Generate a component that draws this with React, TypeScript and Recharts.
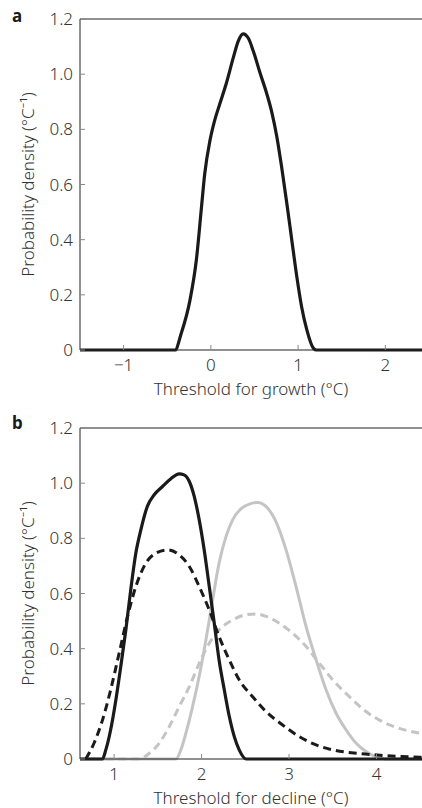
import React from 'react';
import { LineChart, Line, XAxis, YAxis, ReferenceLine, Label } from 'recharts';

// panel a: threshold for growth
const growthX = [-1.5, -0.41, -0.34, -0.24, -0.165, -0.107, -0.07, -0.01, 0.046, 0.1, 0.18, 0.257, 0.314, 0.37, 0.43, 0.487, 0.563, 0.64, 0.7, 0.755, 0.81, 0.87, 0.927, 0.985, 1.04, 1.1, 1.176, 1.21, 2.42];
const growthY = [0, 0, 0.06, 0.18, 0.33, 0.52, 0.64, 0.76, 0.835, 0.89, 0.97, 1.06, 1.12, 1.146, 1.13, 1.083, 1.005, 0.93, 0.86, 0.775, 0.666, 0.533, 0.4, 0.266, 0.157, 0.073, 0.006, 0, 0];

// panel b: threshold for decline
const blackSolidX = [0.61, 0.866, 0.905, 0.96, 1.02, 1.076, 1.134, 1.19, 1.248, 1.305, 1.38, 1.458, 1.553, 1.649, 1.744, 1.8, 1.86, 1.916, 1.973, 2.03, 2.088, 2.145, 2.2, 2.26, 2.317, 2.374, 2.43, 2.51, 4.52];
const blackSolidY = [0, 0, 0.033, 0.105, 0.214, 0.335, 0.468, 0.613, 0.746, 0.83, 0.916, 0.958, 0.988, 1.016, 1.034, 1.03, 1.006, 0.952, 0.867, 0.758, 0.625, 0.492, 0.359, 0.25, 0.154, 0.081, 0.033, 0, 0];

const blackDashX = [0.676, 0.77, 0.866, 0.96, 1.057, 1.153, 1.248, 1.363, 1.477, 1.61, 1.744, 1.86, 1.973, 2.088, 2.2, 2.317, 2.43, 2.584, 2.737, 2.927, 3.118, 3.309, 3.5, 3.805, 4.07, 4.515];
const blackDashY = [0, 0.057, 0.14, 0.25, 0.383, 0.516, 0.625, 0.71, 0.746, 0.758, 0.74, 0.698, 0.625, 0.54, 0.444, 0.359, 0.287, 0.226, 0.172, 0.123, 0.081, 0.051, 0.033, 0.02, 0.013, 0.006];

const graySolidX = [0.61, 1.706, 1.763, 1.82, 1.897, 1.973, 2.05, 2.126, 2.2, 2.28, 2.355, 2.47, 2.56, 2.64, 2.72, 2.85, 2.966, 3.08, 3.195, 3.31, 3.424, 3.538, 3.653, 3.767, 3.88, 3.996, 4.11, 4.52];
const graySolidY = [0, 0, 0.033, 0.093, 0.19, 0.3, 0.432, 0.577, 0.71, 0.807, 0.867, 0.912, 0.926, 0.93, 0.92, 0.861, 0.758, 0.625, 0.48, 0.359, 0.25, 0.166, 0.105, 0.057, 0.027, 0.008, 0, 0];

const grayDashX = [0.9, 1.286, 1.4, 1.515, 1.63, 1.744, 1.86, 1.973, 2.088, 2.2, 2.355, 2.507, 2.62, 2.737, 2.89, 3.04, 3.195, 3.347, 3.5, 3.69, 3.88, 4.07, 4.26, 4.515];
const grayDashY = [0, 0, 0.02, 0.057, 0.117, 0.19, 0.262, 0.347, 0.42, 0.468, 0.504, 0.523, 0.526, 0.517, 0.492, 0.456, 0.408, 0.347, 0.287, 0.226, 0.172, 0.135, 0.111, 0.093];

const yTicks = [0, 0.2, 0.4, 0.6, 0.8, 1.0, 1.2];
const growthTicks = [-1, 0, 1, 2];
const declineTicks = [1, 2, 3, 4];

const toPoints = (xs: number[], ys: number[]) => xs.map((x, i) => ({ x, y: ys[i] }));

const font = '"Noto Sans", sans-serif';
const textColor = '#333';
const black = '#1a1a1a';
const gray = '#c4c4c4';
const fs = 17;

const fmtY = (v: number) => (v === 0 ? '0' : v.toFixed(1));
const fmtX = (v: number) => String(v).replace('-', '\u2212');

interface PanelProps {
  domain: [number, number];
  ticks: number[];
  xLabel: string;
  children: React.ReactNode;
}

const Panel: React.FC<PanelProps> = ({ domain, ticks, xLabel, children }) => (
  <LineChart width={422} height={404} margin={{ top: 19, right: 0, bottom: 0, left: 0 }}>
    <XAxis
      type="number"
      dataKey="x"
      domain={domain}
      ticks={ticks}
      tickFormatter={fmtX}
      height={54}
      stroke="#222"
      tickSize={-5}
      tickMargin={14}
      tick={{ fill: textColor, fontSize: fs, fontFamily: font, fontWeight: 300 }}
      tickLine={{ stroke: '#888' }}
    >
      <Label value={xLabel} position="insideBottom" offset={9} fill={textColor} fontSize={fs} fontFamily={font} fontWeight={300} />
    </XAxis>
    <YAxis
      type="number"
      domain={[0, 1.2]}
      ticks={yTicks}
      tickFormatter={fmtY}
      width={80}
      stroke="#222"
      tickSize={-5}
      tickMargin={12}
      tick={{ fill: textColor, fontSize: fs, fontFamily: font, fontWeight: 300 }}
      tickLine={{ stroke: '#888' }}
    >
      <Label
        value="Probability density (°C⁻¹)"
        angle={-90}
        position="center"
        dx={-12}
        fill={textColor}
        fontSize={fs}
        fontFamily={font}
        fontWeight={300}
      />
    </YAxis>
    <ReferenceLine y={1.2} stroke="#222" strokeWidth={1} />
    {children}
  </LineChart>
);

const App: React.FC = () => {
  return (
    <div style={{ position: 'absolute', left: 0, top: 0, width: 422, height: 808, background: '#fff', fontFamily: font }}>
      <div style={{ position: 'absolute', left: 12, top: 4, fontSize: 17, fontWeight: 700, color: black }}>a</div>
      <div style={{ position: 'absolute', left: 12, top: 411, fontSize: 17, fontWeight: 700, color: black }}>b</div>
      <div style={{ position: 'absolute', left: 0, top: 0 }}>
        <Panel domain={[-1.5, 2.42]} ticks={growthTicks} xLabel="Threshold for growth (°C)">
          <Line
            data={toPoints(growthX, growthY)}
            dataKey="y"
            type="monotone"
            stroke={black}
            strokeWidth={3.2}
            dot={false}
            isAnimationActive={false}
          />
        </Panel>
      </div>
      <div style={{ position: 'absolute', left: 0, top: 409 }}>
        <Panel domain={[0.61, 4.52]} ticks={declineTicks} xLabel="Threshold for decline (°C)">
          <Line
            data={toPoints(grayDashX, grayDashY)}
            dataKey="y"
            type="monotone"
            stroke={gray}
            strokeWidth={3}
            strokeDasharray="8 5"
            dot={false}
            isAnimationActive={false}
          />
          <Line
            data={toPoints(graySolidX, graySolidY)}
            dataKey="y"
            type="monotone"
            stroke={gray}
            strokeWidth={3}
            dot={false}
            isAnimationActive={false}
          />
          <Line
            data={toPoints(blackDashX, blackDashY)}
            dataKey="y"
            type="monotone"
            stroke={black}
            strokeWidth={3}
            strokeDasharray="8 5"
            dot={false}
            isAnimationActive={false}
          />
          <Line
            data={toPoints(blackSolidX, blackSolidY)}
            dataKey="y"
            type="monotone"
            stroke={black}
            strokeWidth={3.2}
            dot={false}
            isAnimationActive={false}
          />
        </Panel>
      </div>
    </div>
  );
};

export default App;
